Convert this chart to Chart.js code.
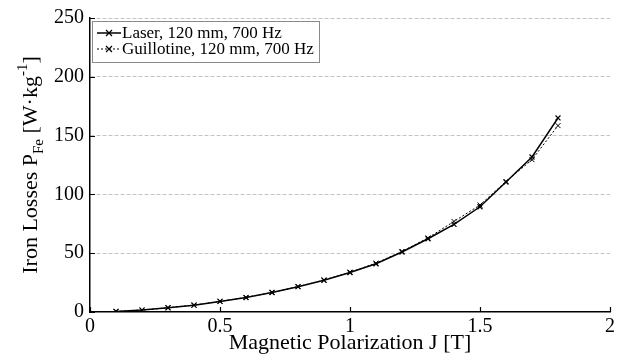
<!DOCTYPE html>
<html>
<head>
<meta charset="utf-8">
<script src="https://cdn.jsdelivr.net/npm/chart.js@4.4.0/dist/chart.umd.min.js"></script>
<style>
  html, body { margin: 0; padding: 0; background: #fff; }
  #wrap { width: 624px; height: 358px; }
</style>
</head>
<body>
<div id="wrap"><canvas id="lossChart" width="624" height="358"></canvas></div>
<script>
// polarization J [T] and measured iron losses [W/kg]
const polarization = [0.1, 0.2, 0.3, 0.4, 0.5, 0.6, 0.7, 0.8, 0.9, 1.0, 1.1, 1.2, 1.3, 1.4, 1.5, 1.6, 1.7, 1.8];
const laserLoss = [0.5, 1.6, 3.6, 5.8, 9.0, 12.3, 16.6, 21.5, 27.0, 33.6, 41.0, 51.0, 62.3, 74.5, 89.5, 110.5, 131.8, 165.0];
const guillotineLoss = [0.5, 1.6, 3.6, 5.9, 9.1, 12.4, 16.7, 21.6, 27.2, 33.8, 41.5, 51.5, 63.0, 77.0, 91.0, 111.0, 129.5, 158.5];
const seriesNames = ["Laser, 120 mm, 700 Hz", "Guillotine, 120 mm, 700 Hz"];
const xTicks = [0, 0.5, 1, 1.5, 2];
const yTicks = [0, 50, 100, 150, 200, 250];

const serif = "'Liberation Serif', 'Times New Roman', serif";

function toPoints(xs, ys) {
    return xs.map((x, i) => ({ x: x, y: ys[i] }));
}

// inward tick marks, axis titles with sub/superscripts, boxed legend
const decorations = {
    id: "decorations",
    afterDraw(chart) {
        const ctx = chart.ctx;
        const xs = chart.scales.x;
        const ys = chart.scales.y;
        const area = chart.chartArea;

        ctx.save();
        ctx.strokeStyle = "#000";
        ctx.lineWidth = 1.2;
        ctx.beginPath();
        yTicks.forEach(v => {
            const py = Math.round(ys.getPixelForValue(v)) + 0.5;
            ctx.moveTo(area.left, py);
            ctx.lineTo(area.left + 5, py);
        });
        xTicks.forEach(v => {
            const px = Math.round(xs.getPixelForValue(v)) + 0.5;
            ctx.moveTo(px, area.bottom);
            ctx.lineTo(px, area.bottom - 5);
        });
        ctx.stroke();

        // x axis title
        ctx.fillStyle = "#000";
        ctx.font = "22px " + serif;
        ctx.textAlign = "center";
        ctx.textBaseline = "alphabetic";
        ctx.fillText("Magnetic Polarization J [T]", (area.left + area.right) / 2, 349);

        // y axis title, rotated
        const parts = [
            { t: "Iron Losses P", size: 22, dy: 0 },
            { t: "Fe", size: 15, dy: 6 },
            { t: " [W\u00b7kg", size: 22, dy: 0 },
            { t: "-1", size: 15, dy: -10 },
            { t: "]", size: 22, dy: 0 }
        ];
        let total = 0;
        parts.forEach(p => {
            ctx.font = p.size + "px " + serif;
            p.w = ctx.measureText(p.t).width;
            total += p.w;
        });
        ctx.translate(37, (area.top + area.bottom) / 2);
        ctx.rotate(-Math.PI / 2);
        ctx.textAlign = "left";
        let cx = -total / 2;
        parts.forEach(p => {
            ctx.font = p.size + "px " + serif;
            ctx.fillText(p.t, cx, p.dy);
            cx += p.w;
        });
        ctx.restore();

        // legend
        ctx.save();
        ctx.fillStyle = "#fff";
        ctx.fillRect(92, 21, 227, 41);
        ctx.strokeStyle = "#8a8a8a";
        ctx.lineWidth = 1;
        ctx.strokeRect(92.5, 21.5, 227, 41);
        ctx.font = "17px " + serif;
        ctx.fillStyle = "#000";
        ctx.textAlign = "left";
        ctx.textBaseline = "alphabetic";
        chart.data.datasets.forEach((ds, i) => {
            const rowY = 33 + i * 16;
            ctx.strokeStyle = "#000";
            ctx.lineWidth = ds.borderWidth;
            ctx.setLineDash(ds.borderDash || []);
            ctx.beginPath();
            ctx.moveTo(97, rowY);
            ctx.lineTo(121, rowY);
            ctx.stroke();
            ctx.setLineDash([]);
            ctx.lineWidth = 1.2;
            const r = 3;
            ctx.beginPath();
            ctx.moveTo(109 - r, rowY - r);
            ctx.lineTo(109 + r, rowY + r);
            ctx.moveTo(109 - r, rowY + r);
            ctx.lineTo(109 + r, rowY - r);
            ctx.stroke();
            ctx.fillText(ds.label, 122, rowY + 5);
        });
        ctx.restore();
    }
};

const ctx = document.getElementById("lossChart").getContext("2d");
const chart = new Chart(ctx, {
    type: "line",
    data: {
        datasets: [
            {
                label: seriesNames[0],
                data: toPoints(polarization, laserLoss),
                borderColor: "#000",
                borderWidth: 1.5,
                pointStyle: "crossRot",
                pointRadius: 3.5,
                pointBorderWidth: 1.2,
                pointBorderColor: "#000",
                fill: false,
                tension: 0
            },
            {
                label: seriesNames[1],
                data: toPoints(polarization, guillotineLoss),
                borderColor: "#000",
                borderWidth: 1,
                borderDash: [2, 2],
                pointStyle: "crossRot",
                pointRadius: 3.5,
                pointBorderWidth: 1,
                pointBorderColor: "#000",
                fill: false,
                tension: 0
            }
        ]
    },
    options: {
        responsive: false,
        animation: false,
        layout: { padding: { left: 0, right: 14, top: 17, bottom: 0 } },
        plugins: {
            legend: { display: false },
            tooltip: { enabled: false }
        },
        scales: {
            x: {
                type: "linear",
                min: 0,
                max: 2,
                afterFit: scale => { scale.height = 46; },
                afterBuildTicks: scale => { scale.ticks = xTicks.map(v => ({ value: v })); },
                grid: { display: false, drawTicks: false },
                border: { display: true, color: "#000", width: 1.5 },
                ticks: {
                    color: "#000",
                    padding: 3,
                    maxRotation: 0,
                    font: { family: serif, size: 20 },
                    callback: v => String(v)
                }
            },
            y: {
                type: "linear",
                min: 0,
                max: 250,
                afterFit: scale => { scale.width = 90; },
                afterBuildTicks: scale => { scale.ticks = yTicks.map(v => ({ value: v })); },
                grid: {
                    drawTicks: false,
                    color: c => (c.tick && c.tick.value === 0) ? "rgba(0,0,0,0)" : "#c4c4c4",
                    lineWidth: 1
                },
                // dash here applies to the grid lines
                border: { display: true, color: "#000", width: 1.5, dash: [4, 2] },
                ticks: {
                    color: "#000",
                    padding: 6,
                    font: { family: serif, size: 20 },
                    callback: v => String(v)
                }
            }
        }
    },
    plugins: [decorations]
});
</script>
</body>
</html>
